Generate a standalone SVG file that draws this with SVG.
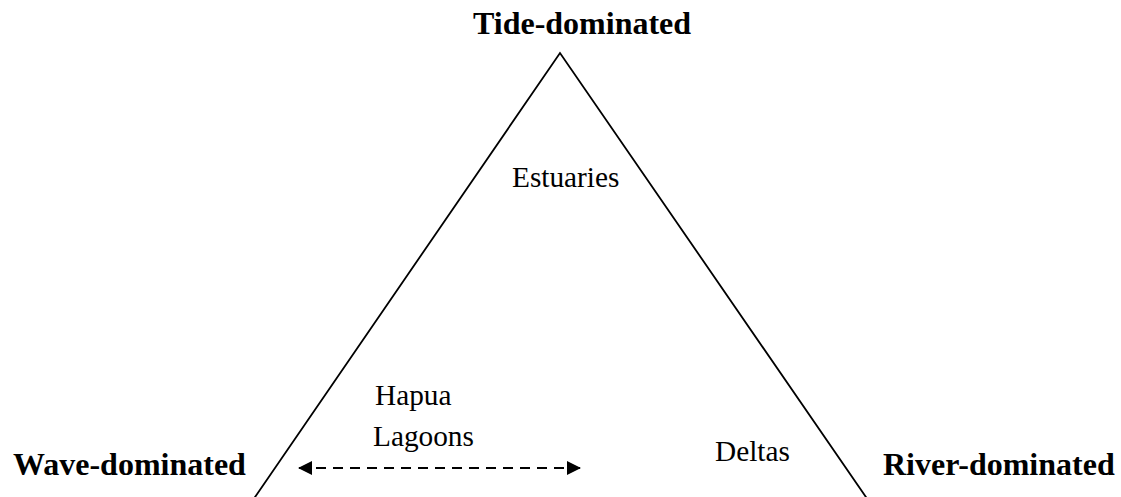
<svg xmlns="http://www.w3.org/2000/svg" width="1121" height="497" viewBox="0 0 1121 497">
  <style>
    .corner { font-family: "Liberation Serif", "Times New Roman", serif; font-weight: bold; font-size: 32px; fill: #000; }
    .label { font-family: "Liberation Serif", "Times New Roman", serif; font-size: 29.3px; fill: #000; }
    .edge { fill: none; stroke: #000; stroke-width: 1.8; }
    .dashed { fill: none; stroke: #000; stroke-width: 2; stroke-dasharray: 10 7; }
  </style>
  <defs>
    <marker id="head" viewBox="0 0 14 14" refX="13" refY="7" markerWidth="14" markerHeight="14" markerUnits="userSpaceOnUse" orient="auto-start-reverse">
      <path d="M0,0 L14,7 L0,14 Z" fill="#000"/>
    </marker>
  </defs>
  <rect width="1121" height="497" fill="#fff"/>

  <!-- Process triangle -->
  <g id="triangle">
    <polyline class="edge" points="253,500 560,53 868,500"/>
  </g>

  <!-- Corner end-members -->
  <g id="tide-dominated">
    <text class="corner" x="473" y="34">Tide-dominated</text>
  </g>
  <g id="wave-dominated">
    <text class="corner" x="13" y="475">Wave-dominated</text>
  </g>
  <g id="river-dominated">
    <text class="corner" x="883" y="475">River-dominated</text>
  </g>

  <!-- Landforms inside the triangle -->
  <g id="estuaries">
    <text class="label" x="512" y="187">Estuaries</text>
  </g>
  <g id="hapua-lagoons">
    <text class="label" x="375" y="405">Hapua</text>
    <text class="label" x="373" y="446">Lagoons</text>
  </g>
  <g id="deltas">
    <text class="label" x="715" y="461">Deltas</text>
  </g>

  <!-- Connectors -->
  <g id="connectors">
    <line class="dashed" x1="299" y1="468" x2="580" y2="468" marker-start="url(#head)" marker-end="url(#head)"/>
  </g>
</svg>
